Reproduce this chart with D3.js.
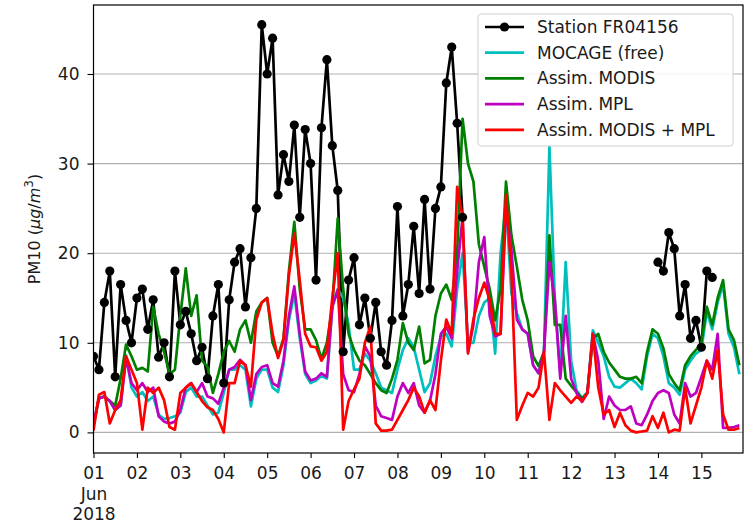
<!DOCTYPE html>
<html>
<head>
<meta charset="utf-8">
<script src="https://cdn.jsdelivr.net/npm/d3@7"></script>
<style>
  body { margin: 0; background: #fff; }
  svg { display: block; font-family: "DejaVu Sans", sans-serif; }
</style>
</head>
<body>
<div id="chart"></div>
<script>
// PM10 (ug/m3), 1-15 June 2018, one value every 3 hours, null = no measurement
const startDate = new Date(2018, 5, 1, 0);
const endDate = new Date(2018, 5, 15, 23);
const stepHours = 3;

const station = [
  8.5, 7, 14.5, 18, 6.2, 16.5, 12.5, 10,
  15, 16, 11.5, 14.8, 8.4, 10, 6.2, 18,
  12, 13.5, 11, 8, 9.5, 6, 13, 16.5,
  5.5, 14.8, 19, 20.5, 14, 19.5, 25, 45.5,
  40, 44, 26.5, 31, 28, 34.3, 24, 33.8,
  30, 17, 34, 41.6, 32, 27, 9, 17,
  19.5, 12, 15, 10.5, 14.5, 9, 7.5, 12.5,
  25.2, 13, 16.5, 23, 15.5, 26, 16, 25,
  27.4, 39, 43, 34.5, 24, null, null, null,
  null, null, null, null, null, null, null, null,
  null, null, null, null, null, null, null, null,
  null, null, null, null, null, null, null, null,
  null, null, null, null, null, null, null, null,
  19, 18, 22.3, 20.5, 13, 16.5, 10.5, 12.5,
  9.5, 18, 17.3, null, null, null, null, null
];

const mocage = [
  0.8, 3.8, 4, 3.5, 2.5, 3, 8.6, 5,
  4, 4.5, 3.5, 4, 2, 1.5, 1.6, 1.8,
  2.2, 4.5, 5, 4, 4, 3, 2, 2.2,
  4.4, 7, 7, 7.5, 7, 2.9, 6, 7,
  7, 5, 4.5, 7.5, 12.5, 15.5, 10.5, 6.5,
  5.5, 5.8, 6.3, 6, 14, 16, 15, 12,
  7, 7, 8.8, 8, 6.6, 5, 4.7, 4.4,
  7, 9.2, 10.5, 9.5, 7, 4.5, 5.5, 8.5,
  10.7, 11, 9.6, 16, 20, 10, 10, 13,
  14.5, 15, 8.8, 20, 25.5, 15.5, 13.3, 11.5,
  11, 7.5, 6.6, 9, 31.9, 14.8, 6.6, 19,
  8, 4.7, 3.8, 4.5, 11.4, 10, 8.5, 6.2,
  5.1, 5, 5.5, 6, 5.5, 4.8, 8.5, 11,
  10.5, 8.5, 5.5, 5, 4.2, 7, 8, 8.8,
  9.2, 13.5, 11.5, 14.5, 16.5, 11, 9.5, 6.5
];

const assimModis = [
  0.8, 3.8, 4, 3.5, 3, 6, 9.8, 8.5,
  7, 7.2, 6.8, 14, 11, 9, 6.5, 7,
  13, 18.3, 13, 15.3, 8, 7.3, 4.4, 6.5,
  9, 10.2, 9, 11.5, 12.5, 10, 13.5, 14.5,
  15, 10, 8.5, 10.5, 18, 23.5, 16, 11.5,
  11.5, 10.3, 8.2, 10, 14, 23.9, 16, 11,
  9.2, 8, 7.5, 6.5, 5.5, 4.7, 4.4, 6,
  8.1, 12.2, 10, 9.2, 11.8, 7.7, 8.1, 13,
  15.5, 16.5, 14.8, 20, 35, 30, 28, 21,
  18.5, 16, 12.5, 16, 28, 22, 18.5, 14.8,
  12.5, 8.5, 7.4, 9, 22, 12, 12, 6,
  5.2, 4.5, 3.8, 4.4, 10.5, 11, 9, 7.8,
  7, 6.2, 6, 6, 6.2, 5.5, 9, 11.5,
  11, 9.4, 6.5, 5.5, 4.7, 7.5, 8.5, 9.2,
  10, 14, 12, 15, 17, 11.5, 10.3, 7.5
];

const assimMpl = [
  1, 3.8, 4, 3.5, 2.5, 3, 8.3, 5.5,
  4.7, 5.5, 4.5, 5, 1.8, 1.2, 1, 1.2,
  2.5, 5, 5.5, 4.5, 5.5, 4, 3.8, 3.2,
  5, 7, 7.3, 8.1, 7.5, 3.6, 6.5, 7.3,
  7.5, 5.5, 5.1, 8, 13, 16.3, 11, 6.8,
  5.8, 6, 6.6, 6.2, 14, 15.9, 6.5, 4.7,
  4.5, 6.5, 9.6, 8.5, 3, 1.8, 1.6, 1.4,
  4, 5.5, 4.4, 5.5, 3, 2.2, 3.5, 6.5,
  11, 11.8, 10.5, 18, 24, 9, 12, 19,
  21.8, 13, 10.7, 11, 25, 20.4, 12.6, 11.5,
  11, 7.5, 6.6, 9, 19, 14.8, 6, 13,
  6, 4.4, 3.4, 4.4, 11, 8, 1.5, 4,
  3, 2.5, 2.5, 2.9, 1, 0.8, 2, 3.5,
  4.4, 4.7, 4.4, 2, 1, 5.5, 4, 4.4,
  6.2, 8, 7, 11, 0.5, 0.5, 0.6, 0.8
];

const assimModisMpl = [
  0.2, 4.2, 4.5, 1, 2.5, 3.6, 8.5, 7,
  5.5, 0.3, 5, 4.4, 5, 3.6, 0.6, 0.3,
  4.4, 5, 5.5, 4.5, 3.5, 2.8, 2.5, 1.5,
  0, 5.5, 5.5, 8, 7.5, 5.1, 12.6, 14.5,
  15, 11, 8.3, 10.3, 17.5, 22.2, 17, 11,
  9.6, 9.5, 8, 9, 15, 20, 0.3, 3.5,
  4.8, 6, 10, 11.8, 1, 0.2, 0.2, 0.3,
  1.4, 2.5, 3.6, 5, 4, 2.2, 3.6, 2.5,
  8, 12.6, 11, 27.4, 24, 8.8, 12.6, 15,
  16.7, 14.8, 11, 11, 26.5, 17.8, 1.4, 3,
  4.4, 4, 5, 9, 1.4, 5.5, 4.7, 4,
  3.3, 4, 3.5, 4.4, 11, 5, 2, 2.5,
  0.6, 2.2, 0.8, 0.2, 0, 0.1, 0.2, 1.8,
  0.5, 2.2, 0, 0.3, 0.2, 5, 1, 3,
  5, 8, 6, 9.2, 2, 0.3, 0.3, 0.5
];

const seriesNames = ["Station FR04156", "MOCAGE (free)", "Assim. MODIS", "Assim. MPL", "Assim. MODIS + MPL"];
const seriesColors = ["#000000", "#00bfbf", "#008000", "#bf00bf", "#ff0000"];
const yTicks = [0, 10, 20, 30, 40];
const yDomain = [-2.3, 47.7];

class TimeSeriesChart {
  constructor(_config, series) {
    this.config = {
      parentElement: _config.parentElement,
      containerWidth: 744,
      containerHeight: 525,
      margin: { top: 5, right: 1, bottom: 72, left: 93.5 },
      fontSize: 17,
    };
    this.series = series;
    this.initVis();
  }

  initVis() {
    let vis = this;
    vis.width = vis.config.containerWidth - vis.config.margin.left - vis.config.margin.right;
    vis.height = vis.config.containerHeight - vis.config.margin.top - vis.config.margin.bottom;

    vis.svg = d3.select(vis.config.parentElement)
      .append("svg")
      .attr("width", vis.config.containerWidth)
      .attr("height", vis.config.containerHeight);

    vis.chart = vis.svg.append("g")
      .attr("transform", `translate(${vis.config.margin.left},${vis.config.margin.top})`);

    vis.xScale = d3.scaleTime().domain([startDate, endDate]).range([0, vis.width]);
    vis.yScale = d3.scaleLinear().domain(yDomain).range([vis.height, 0]);

    vis.chart.append("clipPath").attr("id", "plot-clip")
      .append("rect").attr("width", vis.width).attr("height", vis.height);

    vis.gridG = vis.chart.append("g").attr("class", "grid");
    vis.linesG = vis.chart.append("g").attr("clip-path", "url(#plot-clip)");
    vis.xAxisG = vis.chart.append("g").attr("transform", `translate(0,${vis.height})`);
    vis.yAxisG = vis.chart.append("g");
    vis.legendG = vis.chart.append("g");
  }

  renderVis() {
    let vis = this;
    const fs = vis.config.fontSize;
    const timeOf = (i) => d3.timeHour.offset(startDate, i * stepHours);

    // horizontal grid
    vis.gridG.selectAll("line")
      .data(yTicks)
      .join("line")
      .attr("x1", 0).attr("x2", vis.width)
      .attr("y1", (d) => vis.yScale(d)).attr("y2", (d) => vis.yScale(d))
      .attr("stroke", "#b0b0b0").attr("stroke-width", 1.1);

    const line = d3.line()
      .defined((d) => d != null)
      .x((d, i) => vis.xScale(timeOf(i)))
      .y((d) => vis.yScale(d));

    vis.series.forEach((values, s) => {
      vis.linesG.append("path")
        .attr("d", line(values))
        .attr("fill", "none")
        .attr("stroke", seriesColors[s])
        .attr("stroke-width", 2.7)
        .attr("stroke-linejoin", "round");
    });

    // station markers
    const pts = vis.series[0].map((v, i) => ({ t: timeOf(i), v: v })).filter((d) => d.v != null);
    vis.linesG.selectAll(".dot")
      .data(pts)
      .join("circle")
      .attr("class", "dot")
      .attr("cx", (d) => vis.xScale(d.t))
      .attr("cy", (d) => vis.yScale(d.v))
      .attr("r", 4.6)
      .attr("fill", "#000");

    // frame
    vis.chart.append("rect")
      .attr("width", vis.width).attr("height", vis.height)
      .attr("fill", "none").attr("stroke", "#000").attr("stroke-width", 1.2);

    // axes
    vis.xAxis = d3.axisBottom(vis.xScale)
      .ticks(d3.timeDay.every(1))
      .tickSize(5)
      .tickPadding(5)
      .tickFormat(d3.timeFormat("%d"));
    vis.xAxisG.call(vis.xAxis);
    vis.xAxisG.select(".domain").remove();
    vis.xAxisG.selectAll(".tick line").attr("stroke", "#000").attr("stroke-width", 1.1);
    vis.xAxisG.selectAll(".tick text")
      .attr("font-size", fs).attr("font-family", "DejaVu Sans").attr("fill", "#1a1a1a")
      .attr("dy", "0.95em");
    vis.xAxisG.selectAll(".tick")
      .filter((d) => +d === +startDate)
      .select("text")
      .each(function () {
        const t = d3.select(this);
        t.text(null);
        t.append("tspan").attr("x", 0).text("01");
        t.append("tspan").attr("x", 0).attr("dy", 20.5).text("Jun");
        t.append("tspan").attr("x", 0).attr("dy", 20.5).text("2018");
      });

    vis.yAxis = d3.axisLeft(vis.yScale)
      .tickValues(yTicks)
      .tickSize(6)
      .tickPadding(8);
    vis.yAxisG.call(vis.yAxis);
    vis.yAxisG.select(".domain").remove();
    vis.yAxisG.selectAll(".tick line").attr("stroke", "#000").attr("stroke-width", 1.1);
    vis.yAxisG.selectAll(".tick text")
      .attr("font-size", fs).attr("font-family", "DejaVu Sans").attr("fill", "#1a1a1a");

    // y label
    const yLab = vis.svg.append("text")
      .attr("transform", `translate(40,${vis.config.margin.top + vis.height / 2}) rotate(-90)`)
      .attr("text-anchor", "middle")
      .attr("font-size", fs - 1)
      .attr("fill", "#1a1a1a");
    yLab.append("tspan").text("PM10 (");
    yLab.append("tspan").attr("font-style", "italic").text("\u03bcg");
    yLab.append("tspan").text("/");
    yLab.append("tspan").attr("font-style", "italic").text("m");
    yLab.append("tspan").attr("font-size", fs * 0.7).attr("dy", -7).text("3");
    yLab.append("tspan").attr("dy", 7).text(")");

    // legend
    const lx = 478 - vis.config.margin.left;
    const ly = 14 - vis.config.margin.top;
    vis.legendG.append("rect")
      .attr("x", lx).attr("y", ly)
      .attr("width", 255).attr("height", 132)
      .attr("rx", 3)
      .attr("fill", "#fff").attr("fill-opacity", 0.85)
      .attr("stroke", "#d0d0d0");

    const rows = vis.legendG.selectAll(".legend-row")
      .data(seriesNames)
      .join("g")
      .attr("class", "legend-row")
      .attr("transform", (d, i) => `translate(${lx + 7},${ly + 13 + i * 25.7})`);

    rows.append("line")
      .attr("x1", 0).attr("x2", 39)
      .attr("stroke", (d, i) => seriesColors[i])
      .attr("stroke-width", 2.7);
    rows.filter((d, i) => i === 0)
      .append("circle")
      .attr("cx", 19.5).attr("r", 4.6).attr("fill", "#000");
    rows.append("text")
      .attr("x", 52).attr("y", 6)
      .attr("font-size", fs)
      .attr("fill", "#1a1a1a")
      .text((d) => d);
  }
}

const chart = new TimeSeriesChart({ parentElement: "#chart" },
  [station, mocage, assimModis, assimMpl, assimModisMpl]);
chart.renderVis();
</script>
</body>
</html>
